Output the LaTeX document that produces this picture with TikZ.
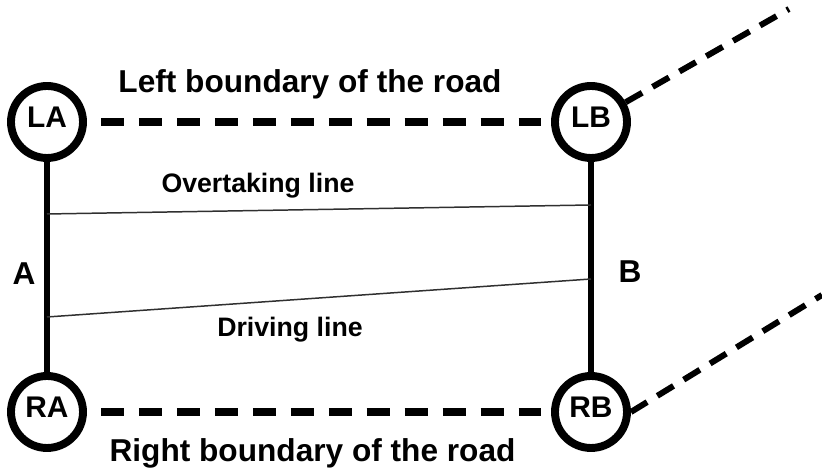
\documentclass[tikz,border=0pt]{standalone}
\usepackage{fontspec}
\setmainfont{Liberation Sans}
\usepackage{tikz}
\usetikzlibrary{positioning,calc}
\definecolor{cthin}{HTML}{303030}

\begin{document}
\begin{tikzpicture}[
 endpt/.style={circle, draw=black, line width=4.5pt, minimum size=1.44cm, inner sep=0pt,
 text depth=0.18cm, font=\fontsize{17}{17}\selectfont\bfseries},
 lbl/.style={anchor=base, inner sep=0pt, font=\fontsize{18}{18}\selectfont\bfseries},
 sublbl/.style={anchor=base, inner sep=0pt, font=\fontsize{15.2}{15.2}\selectfont\bfseries},
 post/.style={draw=black, line width=3.7pt},
 bnd/.style={draw=black, line width=4pt, dash pattern=on 13.1pt off 8.5pt},
 farbnd/.style={draw=black, line width=3.4pt, dash pattern=on 10.8pt off 6.8pt},
 lane/.style={draw=cthin, line width=0.85pt},
]
 \useasboundingbox (0,0) rectangle (16.44,9.42);

 % road end points
 \node[endpt] (LA) at (0.94,6.98) {LA};
 \node[endpt] (LB) at (11.82,6.98) {LB};
 \node[endpt] (RA) at (0.94,1.18) {RA};
 \node[endpt] (RB) at (11.82,1.18) {RB};

 \coordinate (LBfar) at (15.78,9.24);
 \coordinate (RBfar) at (16.44,3.52);

 % lanes between the two cross sections
 \coordinate (ovA) at (0.94,5.14);
 \coordinate (ovB) at (11.82,5.32);
 \coordinate (drA) at (0.94,3.08);
 \coordinate (drB) at (11.82,3.84);

 \draw[post] (LA) -- (RA);
 \draw[post] (LB) -- (RB);
 \draw[bnd, shorten <=8pt, shorten >=6pt] (LA) -- (LB);
 \draw[bnd, shorten <=8pt, shorten >=6pt] (RA) -- (RB);
 \draw[farbnd] (LB) -- (LBfar);
 \draw[farbnd] (RB.east) -- (RBfar);
 \draw[lane] (ovA) -- (ovB);
 \draw[lane] (drA) -- (drB);

 \node[lbl] (lbound) at (6.20,7.56) {Left boundary of the road};
 \node[lbl] (rbound) at (6.25,0.18) {Right boundary of the road};
 \node[sublbl] (ovtxt) at (5.16,5.56) {Overtaking line};
 \node[sublbl] (drtxt) at (5.80,2.68) {Driving line};
 \node[lbl] (secA) at (0.48,3.72) {A};
 \node[lbl] (secB) at (12.60,3.76) {B};
\end{tikzpicture}
\end{document}
